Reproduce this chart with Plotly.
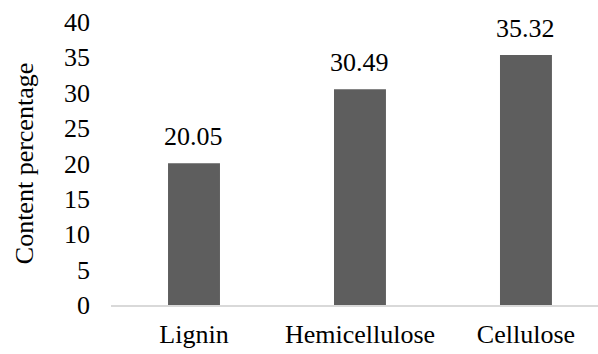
import plotly.graph_objects as go

# Lignocellulosic composition
categories = ["Lignin", "Hemicellulose", "Cellulose"]
values = [20.05, 30.49, 35.32]
y_ticks = [0, 5, 10, 15, 20, 25, 30, 35, 40]

FONT = "Times New Roman, Liberation Serif, serif"
SIZE = 26

fig = go.Figure(
    go.Bar(
        x=categories,
        y=values,
        width=0.313,
        marker=dict(color="#5e5e5e", line=dict(width=0)),
    )
)

for c, v in zip(categories, values):
    fig.add_annotation(
        x=c, y=v, text=f"{v:.2f}", showarrow=False,
        yanchor="bottom", yshift=10,
        font=dict(family=FONT, size=SIZE, color="#000000"),
    )

fig.update_layout(
    width=598, height=354,
    margin=dict(l=111, r=0, t=22, b=49),
    plot_bgcolor="white", paper_bgcolor="white",
    showlegend=False,
    font=dict(family=FONT, size=SIZE, color="#000000"),
)
fig.update_xaxes(
    range=[-0.5, 2.434],
    showline=True, linecolor="#d9d9d9", linewidth=1.5,
    showgrid=False, ticks="", ticklabelstandoff=5,
    tickfont=dict(family=FONT, size=SIZE),
)
fig.update_yaxes(
    range=[0, 40], tickvals=y_ticks,
    showline=False, showgrid=False, zeroline=False, ticks="",
    ticklabelstandoff=20, tickfont=dict(family=FONT, size=SIZE),
    title=dict(text="Content percentage", font=dict(family=FONT, size=SIZE), standoff=22),
)

fig.write_html("out.html")
